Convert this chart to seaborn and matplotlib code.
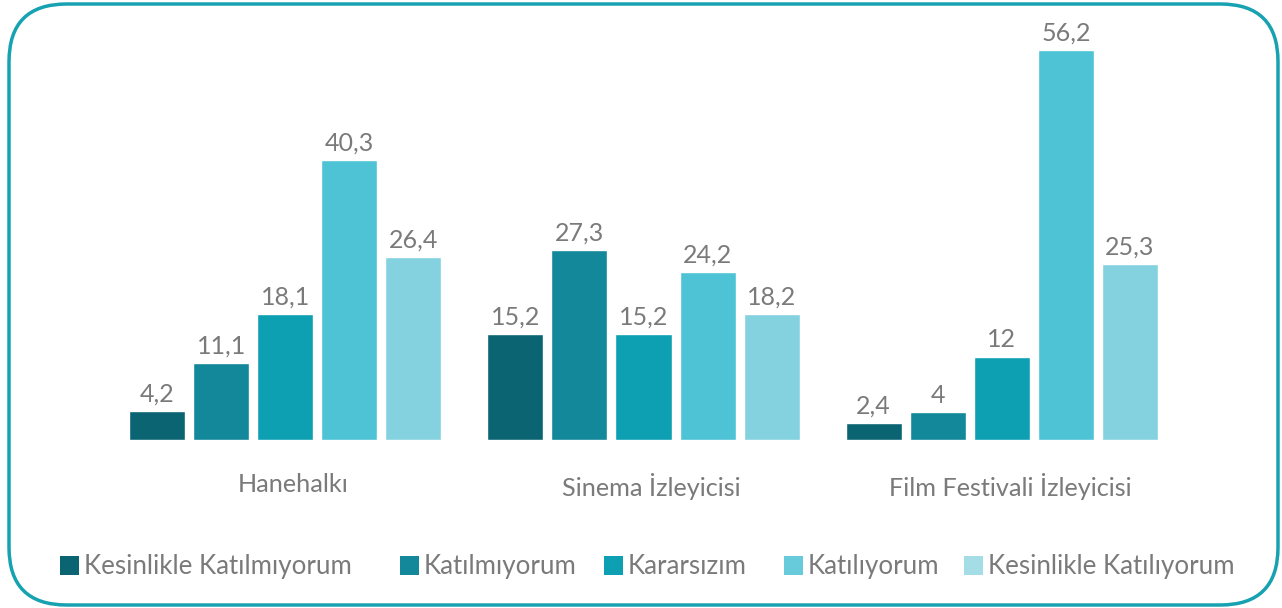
import matplotlib
matplotlib.use("Agg")
import matplotlib.pyplot as plt
from matplotlib.patches import FancyBboxPatch, Rectangle
from matplotlib.transforms import ScaledTranslation
import seaborn as sns
import pandas as pd

# Survey responses (%) by audience group
groups = ["Hanehalkı", "Sinema İzleyicisi", "Film Festivali İzleyicisi"]
responses = ["Kesinlikle Katılmıyorum", "Katılmıyorum", "Kararsızım",
             "Katılıyorum", "Kesinlikle Katılıyorum"]
kesinlikle_katilmiyorum = [4.2, 15.2, 2.4]
katilmiyorum = [11.1, 27.3, 4]
kararsizim = [18.1, 15.2, 12]
katiliyorum = [40.3, 24.2, 56.2]
kesinlikle_katiliyorum = [26.4, 18.2, 25.3]

series = [kesinlikle_katilmiyorum, katilmiyorum, kararsizim,
          katiliyorum, kesinlikle_katiliyorum]
rows = []
for resp, vals in zip(responses, series):
    for g, v in zip(groups, vals):
        rows.append({"grup": g, "yanit": resp, "deger": v})
df = pd.DataFrame(rows)

colors = ["#0B6472", "#13889A", "#0D9FB2", "#4EC3D5", "#84D2DF"]
legend_colors = ["#0B6472", "#13889A", "#0D9FB2", "#68CBDB", "#A5DDE7"]
text_gray = "#7A7A7A"
font = ["Lato", "DejaVu Sans"]

sns.set_theme(style="white")
plt.rcParams["font.family"] = font

fig = plt.figure(figsize=(12.82, 6.08), dpi=100)
ax = fig.add_axes([106 / 1282, 168 / 608, 1075 / 1282, 420 / 608])

sns.barplot(data=df, x="grup", y="deger", hue="yanit", order=groups,
            hue_order=responses, palette=colors, width=0.894, gap=0.125,
            saturation=1, legend=False, ax=ax)

for container in ax.containers:
    labels = [f"{b.get_height():g}".replace(".", ",") for b in container]
    ax.bar_label(container, labels=labels, padding=4, fontsize=18,
                 color=text_gray)

ax.set_ylim(0, 60.5)
ax.set_xlim(-0.5, 2.5)
ax.set_xlabel("")
ax.set_ylabel("")
ax.set_yticks([])
ax.tick_params(axis="x", length=0, pad=24, labelsize=18.2, labelcolor=text_gray)
# category names sit slightly right of the group centres
shift = ScaledTranslation(8 / 100, 0, fig.dpi_scale_trans)
for lbl in ax.get_xticklabels():
    lbl.set_transform(lbl.get_transform() + shift)
sns.despine(ax=ax, left=True, bottom=True, top=True, right=True)

# Legend row along the bottom
sq_x = [60, 400, 604, 784, 964]
for x0, c, lab in zip(sq_x, legend_colors, responses):
    fig.add_artist(Rectangle((x0 / 1282, (608 - 575) / 608), 19 / 1282, 19 / 608,
                             transform=fig.transFigure, color=c, lw=0))
    fig.text((x0 + 24) / 1282, (608 - 574) / 608, lab, fontsize=18.6,
             color=text_gray, va="baseline", ha="left")

# Rounded frame
fig.add_artist(FancyBboxPatch((9 / 1282, 3 / 608), 1269 / 1282, 601 / 608,
                              boxstyle="round,pad=0,rounding_size=0.045",
                              transform=fig.transFigure, fill=False,
                              edgecolor="#17A2B2", lw=2.5,
                              mutation_aspect=1282 / 608))

fig.savefig("out.png", dpi=100)
